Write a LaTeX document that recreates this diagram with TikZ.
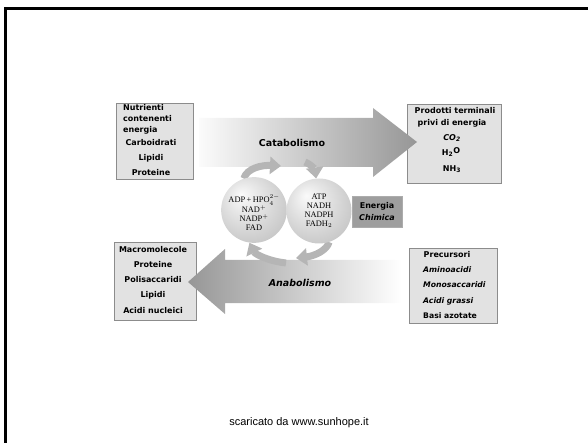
\documentclass[tikz,border=0pt]{standalone}
\usepackage{fontspec}
\setmainfont{Liberation Serif}
\newfontfamily\comicfont{DejaVu Sans}
\newfontfamily\footfont{Liberation Sans}
\usetikzlibrary{arrows.meta,shadows}
\pgfdeclarelayer{boxes}
\pgfdeclarelayer{flow}
\pgfsetlayers{boxes,flow,main}
\pgfdeclareradialshading{greysphere}{\pgfpoint{-10bp}{12bp}}{%
  color(0bp)=(gray!4); color(14bp)=(gray!22); color(30bp)=(gray!42); color(50bp)=(gray!68)}
\begin{document}
\begin{tikzpicture}[x=1pt,y=-1pt,
    infobox/.style={draw=boxline, fill=boxfill, line width=0.7pt, inner sep=0pt,
        drop shadow={shadow xshift=1.3pt, shadow yshift=-1.3pt, fill=gray!60, opacity=0.8}},
    boxtxt/.style={font=\comicfont\bfseries\fontsize{8}{8}\selectfont, inner sep=0pt,
        text height=5.8pt, text depth=1.6pt},
    sphere/.style={circle, shade, shading=greysphere, minimum size=65pt, inner sep=0pt,
        align=center, font=\fontsize{8.4}{9}\selectfont},
    flowtxt/.style={font=\comicfont\bfseries\fontsize{9.5}{10}\selectfont, inner sep=0pt},
    cyclearr/.style={draw=gray!58, line width=7pt, -{Triangle[length=11pt,width=17pt]}}]
    % Define grey tones
    \definecolor{boxfill}{RGB}{226,226,226}
    \definecolor{boxline}{RGB}{140,140,140}
    \definecolor{enfill}{RGB}{158,158,158}

    \useasboundingbox (0,0) rectangle (588,443);

    % Slide frame
    \draw[gray!60, line width=3.6pt] (5.5,443) -- (5.5,8.5) -- (588,8.5);
    \draw[line width=2.2pt] (5.5,443) -- (5.5,8.5) -- (588,8.5);

    \begin{pgfonlayer}{boxes}
    % Nutrienti
    \node[infobox, minimum width=77pt, minimum height=76pt] (nutbox) at (154.5,141) {};
    \foreach \t/\yy [count=\i] in {Nutrienti/108, contenenti/119, energia/130} {
        \node[boxtxt, anchor=west] (nut\i) at (123,\yy) {\t};
    }
    \foreach \t/\yy [count=\i from 4] in {Carboidrati/143, Lipidi/158, Proteine/173} {
        \node[boxtxt] (nut\i) at (151,\yy) {\t};
    }

    % Prodotti terminali
    \node[infobox, minimum width=94pt, minimum height=79pt] (prodbox) at (454,143.5) {};
    \foreach \t/\xx/\yy [count=\i] in {{Prodotti terminali}/455/111, {privi di energia}/452/123,
        {\itshape CO\textsubscript{2}}/452/138, {H\textsubscript{2}\raisebox{2pt}{O}}/451/153,
        {NH\textsubscript{3}}/452/169} {
        \node[boxtxt] (prod\i) at (\xx,\yy) {\t};
    }

    % Macromolecole
    \node[infobox, minimum width=82pt, minimum height=78pt] (macrobox) at (155,281) {};
    \foreach \t/\yy [count=\i] in {Macromolecole/250, Proteine/265, Polisaccaridi/280,
        Lipidi/295, {Acidi nucleici}/311} {
        \node[boxtxt] (macro\i) at (153,\yy) {\t};
    }

    % Precursori
    \node[infobox, minimum width=88pt, minimum height=75pt] (precbox) at (453,285.5) {};
    \node[boxtxt] (prec1) at (447,255) {Precursori};
    \foreach \t/\yy [count=\i from 2] in {{\itshape Aminoacidi}/270, {\itshape Monosaccaridi}/285,
        {\itshape Acidi grassi}/301, {Basi azotate}/316} {
        \node[boxtxt, anchor=west, font=\comicfont\bfseries\fontsize{7.7}{8}\selectfont]
            (prec\i) at (423,\yy) {\t};
    }
    \end{pgfonlayer}

    % Coenzymes
    \node[sphere] (lball) at (254,210)
        {\rule{0pt}{13pt}ADP\,+\,HPO$^{2-}_{4}$\\NAD$^{+}$\\NADP$^{+}$\\FAD};
    \node[sphere, xshift=-2pt] (rball) at (321,211) {ATP\\NADH\\NADPH\\FADH$_{2}$};

    % Energia chimica
    \node[draw=gray!65, fill=enfill, minimum width=50pt, minimum height=31pt, inner sep=0pt,
        align=center, font=\comicfont\bfseries\fontsize{8}{12.5}\selectfont] (enbox)
        at (377,211.5) {Energia\\\textit{Chimica}};

    % Main flows
    \begin{pgfonlayer}{flow}
    \shade[left color=gray!3, right color=gray!82]
        (199,118) -- (373,118) -- (373,108) -- (417,142) -- (373,177) -- (373,167)
        -- (199,167) -- cycle;
    \shade[left color=gray!82, right color=white]
        (402,260) -- (225,260) -- (225,249) -- (188,282) -- (225,314) -- (225,303)
        -- (402,303) -- cycle;

    \coordinate (cataIn) at (281,166);
    \coordinate (cataOut) at (305,162);
    \coordinate (anaIn) at (296,258);
    \coordinate (anaOut) at (286,263);
    \draw[cyclearr] (lball.108) .. controls (247,168) and (262,165) .. (cataIn);
    \draw[cyclearr] (cataOut) .. controls (312,165) and (315,170) .. (rball.95);
    \draw[cyclearr] (rball.-72) .. controls (327,250) and (315,256) .. (anaIn);
    \draw[cyclearr] (anaOut) .. controls (268,261) and (255,254) .. (lball.-98);
    \end{pgfonlayer}

    \node[flowtxt] (catab) at (292,143) {Catabolismo};
    \node[flowtxt, font=\comicfont\bfseries\itshape\fontsize{9.5}{10}\selectfont] (anab)
        at (300,283) {Anabolismo};

    % Source
    \node[font=\footfont\fontsize{11}{13}\selectfont, inner sep=0pt] (src) at (299,423)
        {scaricato da www.sunhope.it};
\end{tikzpicture}
\end{document}
